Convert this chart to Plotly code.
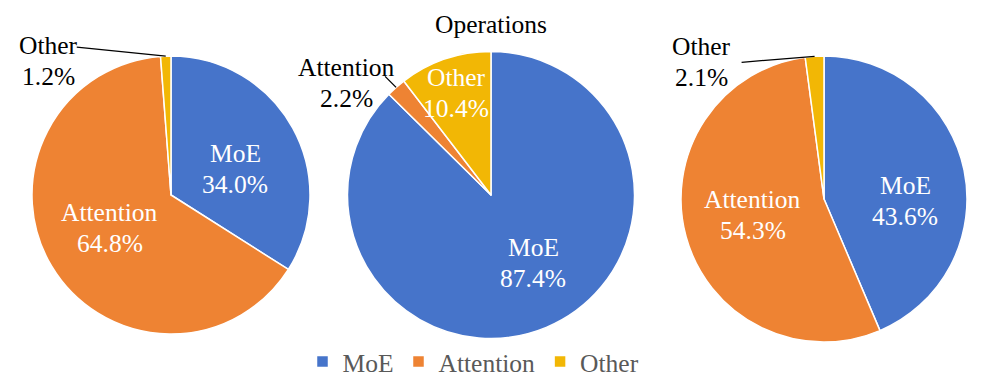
import math
import plotly.graph_objects as go

W, H = 997, 388

labels = ["MoE", "Attention", "Other"]
colors = ["#4674CA", "#EE8333", "#F2B705"]

left_values = [34.0, 64.8, 1.2]
middle_values = [87.4, 2.2, 10.4]
right_values = [43.6, 54.3, 2.1]
middle_title = "Operations"

FONT = "'Liberation Serif', 'Times New Roman', Times, 'DejaVu Serif', serif"
FS = 25.5
PITCH = 31  # px between the two lines of a slice label


def to_paper_x(x):
    return x / W


def to_paper_y(y):
    return 1 - y / H


# pie placement in pixels (center, radius) and how each slice label is drawn
# ("in", radius fraction, angle nudge) or ("out", text dx, dy, line dx, dy)
pies = [
    dict(values=left_values, cx=171, cy=195, r=139,
         lab=[("in", 0.50, 6.5), ("in", 0.50, 3), ("out", -117, 5, -89, -9)]),
    dict(values=middle_values, cx=491, cy=195, r=143.5,
         lab=[("in", 0.56, -9), ("out", -50, -4, -11, -11), ("in", 0.75, 0)]),
    dict(values=right_values, cx=824, cy=199, r=143,
         lab=[("in", 0.57, 13), ("in", 0.51, 3), ("out", -113, 6, -73, 6)]),
]

fig = go.Figure()
annotations = []
shapes = []


def add_label(x, y, name, value, color):
    for k, t in enumerate([name, f"{value:.1f}%"]):
        annotations.append(dict(
            x=to_paper_x(x), y=to_paper_y(y + (k - 0.5) * PITCH),
            xref="paper", yref="paper", text=t, showarrow=False,
            xanchor="center", yanchor="middle",
            font=dict(family=FONT, size=FS, color=color)))


for i, p in enumerate(pies):
    cx, cy, r = p["cx"], p["cy"], p["r"]
    fig.add_trace(go.Pie(
        labels=labels,
        values=p["values"],
        sort=False,
        direction="clockwise",
        rotation=0,
        textinfo="none",
        marker=dict(colors=colors, line=dict(color="white", width=1.5)),
        domain=dict(x=[to_paper_x(cx - r), to_paper_x(cx + r)],
                    y=[to_paper_y(cy + r), to_paper_y(cy - r)]),
        showlegend=(i == 0),
        hoverinfo="label+percent",
    ))

    total = sum(p["values"])
    start = 0.0
    for v, name, lab in zip(p["values"], labels, p["lab"]):
        span = v / total * 360
        mid = start + span / 2
        start += span
        if lab[0] == "in":
            a = math.radians(mid + lab[2])
            x = cx + lab[1] * r * math.sin(a)
            y = cy - lab[1] * r * math.cos(a)
            add_label(x, y, name, v, "white")
        else:
            a = math.radians(mid)
            ex = cx + r * math.sin(a)
            ey = cy - r * math.cos(a)
            add_label(ex + lab[1], ey + lab[2], name, v, "black")
            shapes.append(dict(
                type="line", xref="paper", yref="paper",
                x0=to_paper_x(ex + lab[3]), y0=to_paper_y(ey + lab[4]),
                x1=to_paper_x(ex), y1=to_paper_y(ey),
                line=dict(color="black", width=1.3)))

annotations.append(dict(
    x=to_paper_x(491), y=to_paper_y(25), xref="paper", yref="paper",
    text=middle_title, showarrow=False, xanchor="center", yanchor="middle",
    font=dict(family=FONT, size=FS, color="black")))

fig.update_layout(
    width=W, height=H,
    margin=dict(l=0, r=0, t=0, b=0),
    font=dict(family=FONT),
    paper_bgcolor="white",
    plot_bgcolor="white",
    annotations=annotations,
    shapes=shapes,
    legend=dict(orientation="h", x=0.5 - 25 / W, xanchor="center",
                y=to_paper_y(362), yanchor="middle",
                font=dict(family=FONT, size=FS, color="#595959"),
                bgcolor="rgba(0,0,0,0)", traceorder="normal"),
)

# the page body has a default 8px margin; drop it so the figure sits at 0,0
fig.write_html("out.html", config={"displayModeBar": False},
               post_script="document.body.style.margin='0';")
